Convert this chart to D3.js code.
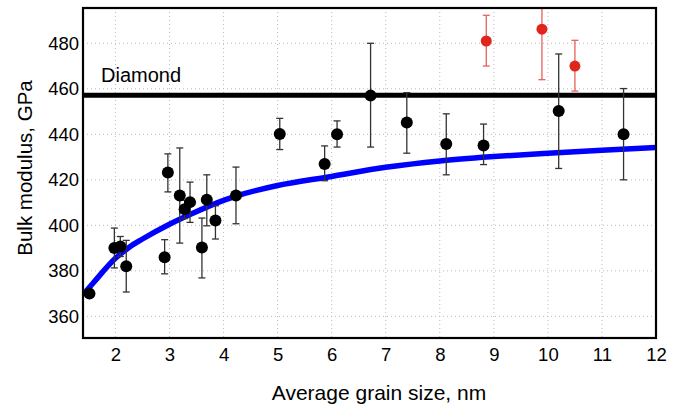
<!DOCTYPE html>
<html>
<head>
<meta charset="utf-8">
<script src="https://cdn.jsdelivr.net/npm/d3@7/dist/d3.min.js"></script>
<style>
  html, body { margin: 0; padding: 0; background: #fff; }
  svg { display: block; }
  text { font-family: "Liberation Sans", Arial, Helvetica, sans-serif; fill: #000; }
</style>
</head>
<body>
<svg id="chart" width="682" height="407"></svg>
<script>
// ---- data ----
const grainSize = [1.52, 1.98, 2.09, 2.2, 2.91, 2.97, 3.19, 3.28, 3.38, 3.6, 3.69, 3.85, 4.23, 5.04, 5.87, 6.1, 6.72, 7.39, 8.12, 8.81, 10.2, 11.4];
const modulus   = [370, 390, 390.7, 382, 386, 423.2, 413.1, 407.1, 410.2, 390.3, 411.2, 402.1, 413.1, 440.1, 427, 440, 457, 445.2, 435.7, 435.1, 450.2, 440];
const errLow    = [370, 381.3, 386.3, 370.7, 378.7, 414.7, 392.2, 403, 401.3, 376.9, 399.8, 394, 400.7, 433.3, 419.6, 434.4, 434.4, 431.7, 422.2, 426.7, 425, 420];
const errHigh   = [370, 398.8, 395.1, 393.4, 393.7, 431.4, 434, 411, 419, 403.2, 422.2, 408.6, 425.6, 447, 434.9, 445.9, 480, 458.3, 449, 444.5, 475.3, 460.1];

const redSize = [8.86, 9.89, 10.5];
const redMod  = [481, 486.2, 470];
const redLow  = [470, 464, 459];
const redHigh = [492.3, 496, 481.3];

const fitSize    = [1.4, 1.6, 2.0, 2.25, 2.5, 3.0, 3.4, 4.0, 4.25, 5, 6, 7, 8, 9, 10, 11, 12];
const fitModulus = [369.5, 375, 385.5, 390.3, 394, 400.5, 405, 411, 413, 417.5, 421.5, 425.5, 428.3, 430.2, 431.7, 433, 434.2];

const diamondValue = 457.2;
const diamondLabel = "Diamond";

const xTicks = [2, 3, 4, 5, 6, 7, 8, 9, 10, 11, 12];
const yTicks = [360, 380, 400, 420, 440, 460, 480];

// ---- layout ----
const svg = d3.select("#chart");
const m = { left: 83, right: 26, top: 8, bottom: 69 };
const W = 682 - m.left - m.right;
const H = 407 - m.top - m.bottom;

const x = d3.scaleLinear().domain([1.4, 12]).range([m.left, m.left + W]);
const y = d3.scaleLinear().domain([350.5, 495.5]).range([m.top + H, m.top]);

svg.append("defs").append("clipPath").attr("id", "clip")
  .append("rect").attr("x", m.left).attr("y", m.top).attr("width", W).attr("height", H);

// grid
const grid = svg.append("g");
grid.selectAll(".gx").data(xTicks.filter(d => d < 12)).join("line")
  .attr("x1", d => x(d)).attr("x2", d => x(d))
  .attr("y1", m.top).attr("y2", m.top + H)
  .attr("stroke", "#bbb").attr("stroke-width", 1).attr("stroke-dasharray", "1,3");
grid.selectAll(".gy").data(yTicks).join("line")
  .attr("x1", m.left).attr("x2", m.left + W)
  .attr("y1", d => y(d)).attr("y2", d => y(d))
  .attr("stroke", "#bbb").attr("stroke-width", 1).attr("stroke-dasharray", "1,3");

// axes
const xAxis = d3.axisBottom(x).tickValues(xTicks).tickSize(0).tickPadding(10).tickFormat(d3.format("d"));
const gx = svg.append("g").attr("transform", `translate(0,${m.top + H})`).call(xAxis);
gx.select(".domain").remove();
gx.selectAll("text").attr("font-size", 18.5).style("font-family", "'Liberation Sans', Arial, sans-serif");

const yAxis = d3.axisLeft(y).tickValues(yTicks).tickSize(0).tickPadding(4).tickFormat(d3.format("d"));
const gy = svg.append("g").attr("transform", `translate(${m.left},0)`).call(yAxis);
gy.select(".domain").remove();
gy.selectAll("text").attr("font-size", 18.5).style("font-family", "'Liberation Sans', Arial, sans-serif");

const plot = svg.append("g").attr("clip-path", "url(#clip)");

// diamond line
plot.append("line")
  .attr("x1", m.left).attr("x2", m.left + W)
  .attr("y1", y(diamondValue)).attr("y2", y(diamondValue))
  .attr("stroke", "#000").attr("stroke-width", 5);
svg.append("text").attr("x", 101).attr("y", y(diamondValue) - 13)
  .attr("font-size", 20).text(diamondLabel);

// fit curve
const line = d3.line().x((d, i) => x(fitSize[i])).y(d => y(d)).curve(d3.curveMonotoneX);
plot.append("path").datum(fitModulus).attr("d", line)
  .attr("fill", "none").attr("stroke", "#0000ff").attr("stroke-width", 5.5);

// error bars
function errorBars(sizes, low, high, color) {
  const g = plot.append("g").attr("stroke", color).attr("stroke-width", 1.3).attr("fill", "none");
  sizes.forEach((s, i) => {
    if (high[i] - low[i] < 0.5) return;
    const cx = x(s);
    g.append("line").attr("x1", cx).attr("x2", cx).attr("y1", y(low[i])).attr("y2", y(high[i]));
    g.append("line").attr("x1", cx - 3.5).attr("x2", cx + 3.5).attr("y1", y(low[i])).attr("y2", y(low[i]));
    g.append("line").attr("x1", cx - 3.5).attr("x2", cx + 3.5).attr("y1", y(high[i])).attr("y2", y(high[i]));
  });
}
errorBars(grainSize, errLow, errHigh, "#333");
errorBars(redSize, redLow, redHigh, "#e8605a");

// points
plot.append("g").selectAll("circle").data(modulus).join("circle")
  .attr("cx", (d, i) => x(grainSize[i])).attr("cy", d => y(d)).attr("r", 6)
  .attr("fill", "#000");
plot.append("g").selectAll("circle").data(redMod).join("circle")
  .attr("cx", (d, i) => x(redSize[i])).attr("cy", d => y(d)).attr("r", 5.5)
  .attr("fill", "#e0251b");

// frame
svg.append("rect").attr("x", m.left).attr("y", m.top).attr("width", W).attr("height", H)
  .attr("fill", "none").attr("stroke", "#000").attr("stroke-width", 2.2);

// axis titles
svg.append("text").attr("x", 379).attr("y", 400).attr("text-anchor", "middle")
  .attr("font-size", 21).text("Average grain size, nm");
svg.append("text").attr("transform", `translate(32,168) rotate(-90)`)
  .attr("text-anchor", "middle").attr("font-size", 20.5).text("Bulk modulus, GPa");
</script>
</body>
</html>
